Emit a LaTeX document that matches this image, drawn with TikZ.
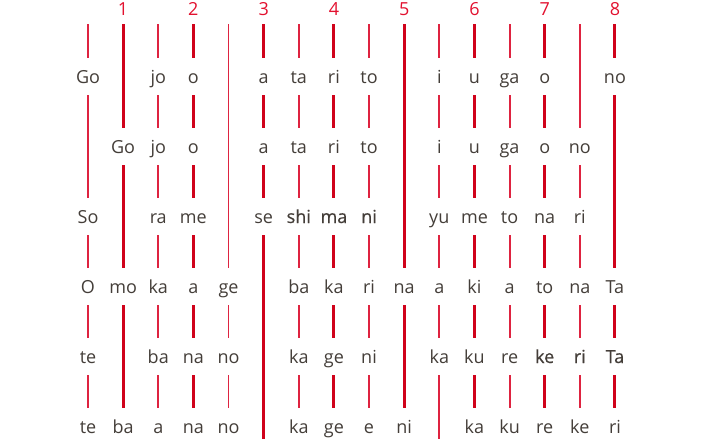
\documentclass[tikz,border=0pt]{standalone}
\usepackage{fontspec}
\setmainfont{Open Sans}
\newfontfamily\heavyfont[FakeBold=0.5]{Open Sans}
\newcommand\heavy[1]{{\heavyfont #1}}
\definecolor{beatred}{HTML}{D0021B}
\definecolor{offred}{HTML}{DE2340}
\definecolor{numred}{HTML}{E2112F}
\definecolor{ink}{HTML}{443E39}

\begin{document}
\begin{tikzpicture}[
      x=1pt, y=-1pt,
      syl/.style={fill=white, text=ink, anchor=base, inner xsep=2pt, inner ysep=0pt,
        text height=25pt, text depth=12pt, font=\fontsize{18}{20}\selectfont},
      beat/.style={beatred, line width=3pt},
      off/.style={offred, line width=1.9pt},
      num/.style={text=numred, anchor=base, font=\fontsize{18}{20}\selectfont}
    ]
    \useasboundingbox (0,0) rectangle (704,439);

    \foreach \c in {0,2,...,14} {
      \coordinate (top\c) at ({88+35.13*\c},24);
      \coordinate (bot\c) at ({88+35.13*\c},439);
      \draw[off] (top\c) -- (bot\c);
    }
    \foreach \c in {1,3,...,15} {
      \coordinate (top\c) at ({88+35.13*\c},24);
      \coordinate (bot\c) at ({88+35.13*\c},439);
      \draw[beat] (top\c) -- (bot\c);
    }

    \foreach \k in {1,...,8}
      \node[num] (n\k) at ({88+35.13*(2*\k-1)},16) {\k};

    \foreach \cells [count=\r from 0] in {
        {0/Go,2/jo,3/o,5/a,6/ta,7/ri,8/to,10/i,11/u,12/ga,13/o,15/no},
        {1/Go,2/jo,3/o,5/a,6/ta,7/ri,8/to,10/i,11/u,12/ga,13/o,14/no},
        {0/So,2/ra,3/me,5/se,6/\heavy{shi},7/\heavy{ma},8/\heavy{ni},10/yu,11/me,12/to,13/na,14/ri},
        {0/O,1/mo,2/ka,3/a,4/ge,6/ba,7/ka,8/ri,9/na,10/a,11/ki,12/a,13/to,14/na,15/Ta},
        {0/te,2/ba,3/na,4/no,6/ka,7/ge,8/ni,10/ka,11/ku,12/re,13/\heavy{ke},14/\heavy{ri},15/\heavy{Ta}},
        {0/te,1/ba,2/a,3/na,4/no,6/ka,7/ge,8/e,9/ni,11/ka,12/ku,13/re,14/ke,15/ri}} {
      \foreach \c/\w in \cells
        \node[syl] (w\r-\c) at ({88+35.13*\c},{83+70*\r}) {\w};
    }
  \end{tikzpicture}
\end{document}
